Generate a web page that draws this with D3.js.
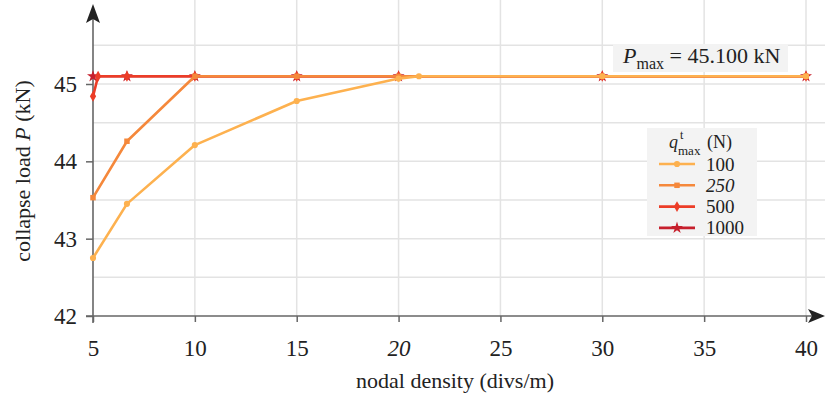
<!DOCTYPE html>
<html><head><meta charset="utf-8">
<script src="https://cdn.jsdelivr.net/npm/d3@7"></script>
<style>body{margin:0;background:#fff}svg{display:block}text{font-family:"Liberation Serif","Times New Roman",serif;fill:#222}</style>
</head><body><svg id="c" width="825" height="399"></svg>
<script>
const seriesNames = ["100", "250", "500", "1000"];
const seriesItalic = [false, true, false, false];
const seriesColors = ["#fdb14f", "#f5883b", "#ec3d27", "#c61f2c"];
const seriesSymbols = ["circle", "square", "diamond", "star"];
const x100 = [5, 6.667, 10, 15, 20, 21, 30, 40];
const y100 = [42.75, 43.45, 44.21, 44.78, 45.07, 45.1, 45.1, 45.1];
const x250 = [5, 6.667, 10, 15, 20, 30, 40];
const y250 = [43.53, 44.26, 45.1, 45.1, 45.1, 45.1, 45.1];
const x500 = [5, 5.25, 6.667, 10, 15, 20, 30, 40];
const y500 = [44.84, 45.1, 45.1, 45.1, 45.1, 45.1, 45.1, 45.1];
const x1000 = [5, 6.667, 10, 15, 20, 30, 40];
const y1000 = [45.1, 45.1, 45.1, 45.1, 45.1, 45.1, 45.1];
const xTicks = [5, 10, 15, 20, 25, 30, 35, 40];
const xTickItalic = [20];
const yTicks = [42, 43, 44, 45];
const yGrid = [42.5, 43, 43.5, 44, 44.5, 45, 45.5];
const pmaxLabel = "45.100 kN";

const svg = d3.select("#c");
const x = d3.scaleLinear().domain([5, 40]).range([93, 806]);
const y = d3.scaleLinear().domain([42, 45]).range([316, 84]);
const gridCol = "#e3e3e3";

// grid
svg.append("g").selectAll("line").data(yGrid).join("line")
  .attr("x1", 93).attr("x2", 825).attr("y1", d => y(d)).attr("y2", d => y(d))
  .attr("stroke", gridCol).attr("stroke-width", 1.5);
svg.append("g").selectAll("line").data(xTicks.filter(d => d > 5)).join("line")
  .attr("x1", d => x(d)).attr("x2", d => x(d)).attr("y1", 316).attr("y2", 0)
  .attr("stroke", gridCol).attr("stroke-width", 1.5);

// axes
const axCol = "#666";
const xAxis = d3.axisBottom(x).tickValues(xTicks).tickFormat(d3.format("d")).tickSize(6).tickSizeOuter(0).tickPadding(18);
const gx = svg.append("g").attr("transform", "translate(0,316)").call(xAxis);
gx.attr("font-family", null);
gx.select(".domain").remove();
gx.selectAll(".tick line").attr("stroke", axCol).attr("stroke-width", 1.5);
gx.selectAll(".tick text").attr("font-size", 23).attr("fill", "#222")
  .attr("font-style", d => xTickItalic.includes(d) ? "italic" : "normal");

const yAxis = d3.axisLeft(y).tickValues(yTicks).tickFormat(d3.format("d")).tickSize(7).tickSizeOuter(0).tickPadding(9);
const gy = svg.append("g").attr("transform", "translate(93,0)").call(yAxis);
gy.attr("font-family", null);
gy.select(".domain").remove();
gy.selectAll(".tick line").attr("stroke", axCol).attr("stroke-width", 1.5);
gy.selectAll(".tick text").attr("font-size", 23).attr("fill", "#222");

svg.append("line").attr("x1", 86).attr("x2", 818).attr("y1", 316).attr("y2", 316).attr("stroke", axCol).attr("stroke-width", 1.6);
svg.append("line").attr("x1", 93).attr("x2", 93).attr("y1", 323).attr("y2", 12).attr("stroke", axCol).attr("stroke-width", 1.6);
svg.append("path").attr("d", "M825,316 L808,309 L812,316 L808,323 Z").attr("fill", "#222");
svg.append("path").attr("d", "M93,4 L86,23 L93,19 L100,23 Z").attr("fill", "#222");

// series
const data = [
  {xs: x100, ys: y100}, {xs: x250, ys: y250}, {xs: x500, ys: y500}, {xs: x1000, ys: y1000}
].map((s, i) => ({i, pts: s.xs.map((v, k) => [v, s.ys[k]])}));
const line = d3.line().x(d => x(d[0])).y(d => y(d[1]));
const symMap = {circle: d3.symbolCircle, square: d3.symbolSquare, diamond: d3.symbolDiamond, star: d3.symbolStar};
const symSize = {circle: 30, square: 30, diamond: 34, star: 45};
[3, 2, 1, 0].forEach(i => {
  const s = data[i];
  const g = svg.append("g");
  g.append("path").attr("d", line(s.pts)).attr("fill", "none")
    .attr("stroke", seriesColors[i]).attr("stroke-width", 2.6).attr("stroke-linejoin", "round");
  const sym = d3.symbol().type(symMap[seriesSymbols[i]]).size(symSize[seriesSymbols[i]]);
  g.selectAll("path.m").data(s.pts).join("path").attr("class", "m")
    .attr("transform", d => `translate(${x(d[0])},${y(d[1])})`)
    .attr("d", sym()).attr("fill", seriesColors[i]);
});

// axis labels
svg.append("text").attr("x", 455).attr("y", 388).attr("text-anchor", "middle").attr("font-size", 22)
  .text("nodal density (divs/m)");
const yl = svg.append("text").attr("transform", "translate(30,171) rotate(-90)").attr("text-anchor", "middle").attr("font-size", 22);
yl.append("tspan").text("collapse load ");
yl.append("tspan").attr("font-style", "italic").text("P");
yl.append("tspan").text(" (kN)");

// Pmax annotation
svg.append("rect").attr("x", 613).attr("y", 44).attr("width", 175).attr("height", 28).attr("fill", "#f3f3f3");
const pt = svg.append("text").attr("x", 623).attr("y", 63).attr("font-size", 22);
pt.append("tspan").attr("font-style", "italic").text("P");
pt.append("tspan").attr("font-size", 16).attr("dy", 6).text("max");
pt.append("tspan").attr("dy", -6).text(" = " + pmaxLabel);

// legend
const lg = svg.append("g");
lg.append("rect").attr("x", 647).attr("y", 128).attr("width", 110).attr("height", 108).attr("fill", "#f3f3f3");
lg.append("text").attr("x", 669).attr("y", 148).attr("font-size", 18).attr("font-style", "italic").text("q");
lg.append("text").attr("x", 680).attr("y", 139).attr("font-size", 12).text("t");
lg.append("text").attr("x", 678).attr("y", 155).attr("font-size", 13).text("max");
lg.append("text").attr("x", 707).attr("y", 148).attr("font-size", 18).text("(N)");
seriesNames.forEach((n, i) => {
  const yy = 164 + i * 21.3;
  lg.append("line").attr("x1", 659).attr("x2", 695).attr("y1", yy).attr("y2", yy)
    .attr("stroke", seriesColors[i]).attr("stroke-width", 2.6);
  lg.append("path").attr("transform", `translate(677,${yy})`)
    .attr("d", d3.symbol().type(symMap[seriesSymbols[i]]).size(symSize[seriesSymbols[i]])()).attr("fill", seriesColors[i]);
  lg.append("text").attr("x", 706).attr("y", yy + 6.5).attr("font-size", 19)
    .attr("font-style", seriesItalic[i] ? "italic" : "normal").text(n);
});
</script></body></html>
